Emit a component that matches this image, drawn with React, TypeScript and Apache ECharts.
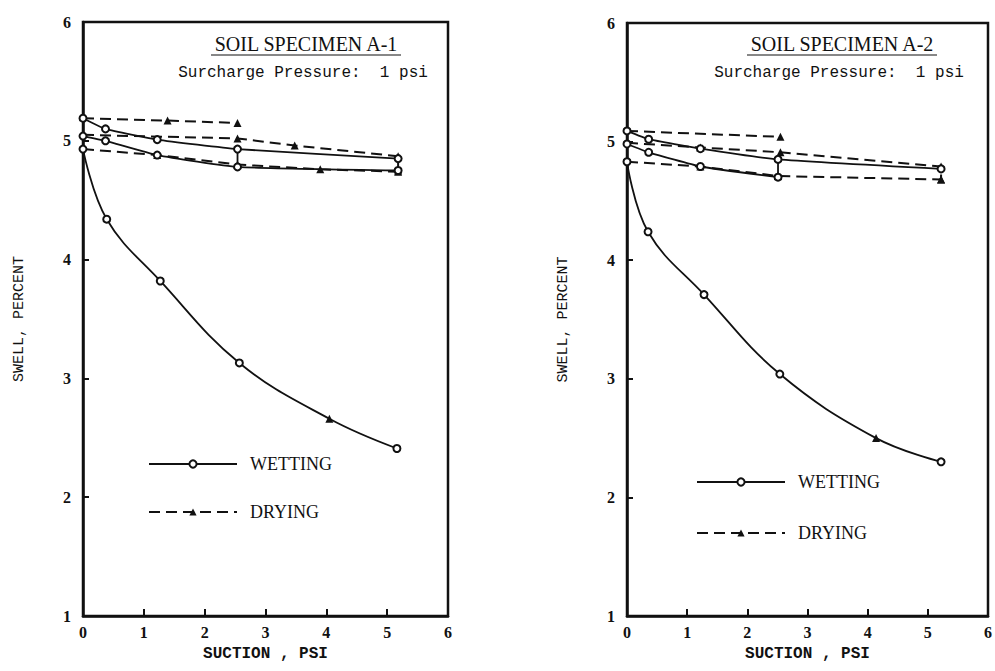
import React, { useEffect, useRef } from "react";
import * as echarts from "echarts";

const suctionRange = [0, 6];
const swellRange = [1, 6];

// Specimen A-1 (suction psi, swell %)
const a1WetUpper = [[0, 5.19], [0.37, 5.1], [1.22, 5.01], [2.54, 4.93], [5.18, 4.85]];
const a1WetLower = [[0, 5.04], [0.37, 5.0], [1.22, 4.88], [2.54, 4.78], [5.18, 4.75]];
const a1WetMain = [[0, 4.93], [0.39, 4.34], [1.27, 3.82], [2.57, 3.13], [5.16, 2.41]];
const a1WetLink = [[2.54, 4.93], [2.54, 4.78]];
const a1DryUpper = [[0, 5.19], [1.39, 5.17], [2.54, 5.15]];
const a1DryMiddle = [[0, 5.05], [2.54, 5.02], [3.48, 4.96], [5.18, 4.87], [5.18, 4.75]];
const a1DryLower = [[0, 4.93], [1.22, 4.88], [2.54, 4.8], [3.9, 4.76], [5.18, 4.74]];
const a1DryMain = [[4.05, 2.66]];

// Specimen A-2
const a2WetUpper = [[0, 5.09], [0.36, 5.02], [1.22, 4.94], [2.51, 4.85], [5.22, 4.77]];
const a2WetLower = [[0, 4.98], [0.36, 4.91], [1.22, 4.79], [2.51, 4.7]];
const a2WetMain = [[0, 4.83], [0.35, 4.24], [1.28, 3.71], [2.54, 3.04], [5.22, 2.3]];
const a2WetLink = [[2.51, 4.85], [2.51, 4.7]];
const a2DryUpper = [[0, 5.09], [2.55, 5.04]];
const a2DryMiddle = [[0, 4.99], [1.22, 4.95], [2.55, 4.91], [5.22, 4.79], [5.22, 4.68]];
const a2DryLower = [[0, 4.83], [1.22, 4.79], [2.51, 4.71], [5.22, 4.68]];
const a2DryMain = [[4.14, 2.5]];

const INK = "#111";
const SERIF = "Liberation Serif";
const MONO = "Liberation Mono";

function wet(data: number[][], axis: number, smooth = 0.15, showSym = true, extra: number[][] = []) {
  const all = [...data.map((d) => ({ value: d })), ...extra.map((d) => ({ value: d, symbol: "none" }))].sort(
    (a, b) => a.value[0] - b.value[0]
  );
  return {
    type: "line",
    name: "WETTING",
    xAxisIndex: axis,
    yAxisIndex: axis,
    data: all,
    smooth,
    symbol: showSym ? "emptyCircle" : "none",
    symbolSize: 7,
    itemStyle: { color: INK, borderWidth: 1.6 },
    lineStyle: { color: INK, width: 1.8, type: "solid" },
    z: 3,
  };
}

function dry(data: number[][], axis: number, z = 2) {
  return {
    type: "line",
    name: "DRYING",
    xAxisIndex: axis,
    yAxisIndex: axis,
    data: data.map((d, i) =>
      i === 0 && data.length > 1 ? { value: d, symbol: "none" } : { value: d }
    ),
    symbol: "triangle",
    symbolSize: 8,
    itemStyle: { color: INK },
    lineStyle: { color: INK, width: 2, type: [11, 6] },
    z,
  };
}

function axisX(gridIndex: number) {
  return {
    type: "value",
    gridIndex,
    min: suctionRange[0],
    max: suctionRange[1],
    interval: 1,
    name: "SUCTION , PSI",
    nameLocation: "middle",
    nameGap: 30,
    nameTextStyle: { fontFamily: MONO, fontSize: 16, fontWeight: "bold", color: INK },
    axisLine: { show: true, onZero: false, lineStyle: { color: INK, width: 2.5 } },
    axisTick: { show: true, inside: true, length: 7, lineStyle: { color: INK, width: 2 } },
    axisLabel: { margin: 8, fontFamily: SERIF, fontWeight: "bold", fontSize: 16, color: INK },
    splitLine: { show: false },
  };
}

function axisY(gridIndex: number) {
  return {
    type: "value",
    gridIndex,
    min: swellRange[0],
    max: swellRange[1],
    interval: 1,
    name: "SWELL, PERCENT",
    nameLocation: "middle",
    nameGap: 56,
    nameRotate: 90,
    nameTextStyle: { fontFamily: MONO, fontSize: 15, color: INK },
    axisLine: { show: true, onZero: false, lineStyle: { color: INK, width: 2.5 } },
    axisTick: { show: true, inside: true, length: 6, lineStyle: { color: INK, width: 2 } },
    axisLabel: { margin: 12, fontFamily: SERIF, fontWeight: "bold", fontSize: 16, color: INK },
    splitLine: { show: false },
  };
}

function titleGroup(cx: number, title: string) {
  return [
    {
      type: "text",
      x: cx,
      y: 44,
      style: {
        text: title,
        fontFamily: SERIF,
        fontSize: 20,
        fill: INK,
        textAlign: "center",
        textVerticalAlign: "middle",
      },
    },
    {
      type: "line",
      shape: { x1: cx - 95, y1: 55, x2: cx + 95, y2: 55 },
      style: { stroke: INK, lineWidth: 1.2 },
    },
    {
      type: "text",
      x: cx - 3,
      y: 73,
      style: {
        text: "Surcharge Pressure:  1 psi",
        fontFamily: MONO,
        fontSize: 16,
        fill: INK,
        textAlign: "center",
        textVerticalAlign: "middle",
      },
    },
  ];
}

export default function App() {
  const ref = useRef<HTMLDivElement>(null);
  useEffect(() => {
    if (!ref.current) return;
    const chart = echarts.init(ref.current, null, { renderer: "svg" });
    const legendText = { fontFamily: SERIF, fontSize: 18, color: INK, padding: [0, 0, 0, 8] };
    chart.setOption({
      animation: false,
      backgroundColor: "#fff",
      grid: [
        { left: 83, top: 22, width: 365, height: 594, show: true, borderColor: INK, borderWidth: 2.5, containLabel: false },
        { left: 627, top: 23, width: 361, height: 593, show: true, borderColor: INK, borderWidth: 2.5, containLabel: false },
      ],
      xAxis: [axisX(0), axisX(1)],
      yAxis: [axisY(0), axisY(1)],
      legend: [
        {
          left: 143,
          top: 450,
          orient: "vertical",
          itemWidth: 88,
          itemHeight: 9,
          itemGap: 30,
          data: ["WETTING", "DRYING"],
          textStyle: legendText,
          selectedMode: false,
        },
        {
          left: 691,
          top: 468,
          orient: "vertical",
          itemWidth: 88,
          itemHeight: 9,
          itemGap: 33,
          data: ["WETTING", "DRYING"],
          textStyle: legendText,
          selectedMode: false,
        },
      ],
      graphic: [...titleGroup(306, "SOIL SPECIMEN A-1"), ...titleGroup(842, "SOIL SPECIMEN A-2")],
      series: [
        wet(a1WetUpper, 0),
        dry(a1DryUpper, 0),
        wet(a1WetLower, 0),
        wet(a1WetMain, 0, 0.4, true, a1DryMain),
        wet(a1WetLink, 0, 0, false),
        dry(a1DryMiddle, 0),
        dry(a1DryLower, 0),
        dry(a1DryMain, 0, 4),
        wet(a2WetUpper, 1),
        wet(a2WetLower, 1),
        wet(a2WetMain, 1, 0.4, true, a2DryMain),
        wet(a2WetLink, 1, 0, false),
        dry(a2DryUpper, 1),
        dry(a2DryMiddle, 1),
        dry(a2DryLower, 1),
        dry(a2DryMain, 1, 4),
      ],
    });
    return () => chart.dispose();
  }, []);
  return (
    <div
      ref={ref}
      style={{ position: "fixed", left: 0, top: 0, width: 995, height: 671, background: "#fff" }}
    />
  );
}
